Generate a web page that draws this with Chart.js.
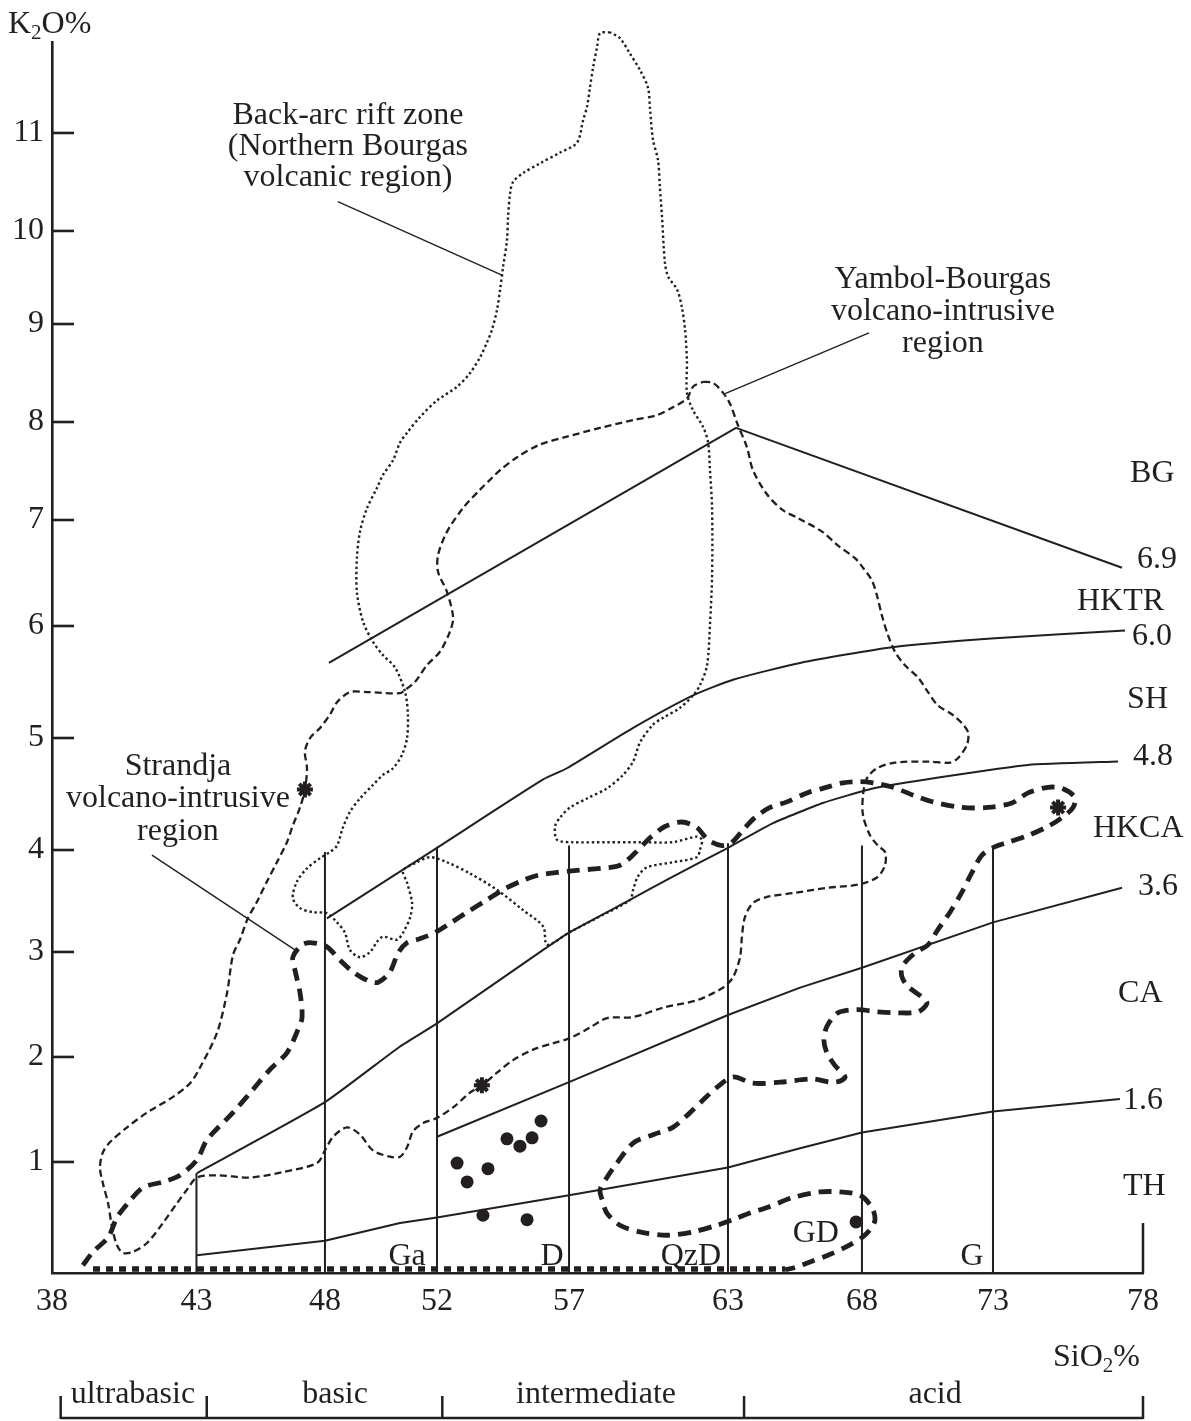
<!DOCTYPE html>
<html>
<head>
<meta charset="utf-8">
<script src="https://cdn.jsdelivr.net/npm/chart.js@4/dist/chart.umd.min.js"></script>
<style>
html,body{margin:0;padding:0;background:#fff;}
#wrap{width:1191px;height:1421px;position:relative;}
</style>
</head>
<body>
<div id="wrap"><canvas id="c"></canvas></div>
<script>
// ---------------- DATA (SiO2 %, K2O %) ----------------
const xTicks = [38, 43, 48, 52, 57, 63, 68, 73, 78];
const yTicks = [1, 2, 3, 4, 5, 6, 7, 8, 9, 10, 11];

const backArcZone = [[58.55,12.04],[58.17,12.03],[58.06,11.89],[57.91,11.68],[57.79,11.47],[57.68,11.27],[57.53,11.13],[57.30,10.90],[56.66,10.80],[55.90,10.69],[55.26,10.59],[54.88,10.50],[54.77,10.39],[54.69,10.14],[54.65,9.90],[54.50,9.61],[54.39,9.37],[54.27,9.15],[54.08,8.94],[53.89,8.81],[53.63,8.66],[53.25,8.50],[52.76,8.36],[52.00,8.22],[51.39,8.05],[50.93,7.89],[50.68,7.79],[50.43,7.61],[50.07,7.46],[49.86,7.33],[49.50,7.12],[49.25,6.89],[49.14,6.64],[49.14,6.32],[49.36,6.04],[49.71,5.86],[50.07,5.74],[50.50,5.63],[50.86,5.41],[50.96,5.21],[50.93,5.00],[50.75,4.85],[50.43,4.73],[50.07,4.67],[49.71,4.58],[49.25,4.46],[48.89,4.34],[48.64,4.20],[48.43,4.04],[48.18,3.98],[47.81,3.92],[47.30,3.82],[46.91,3.69],[46.75,3.53],[47.03,3.43],[47.53,3.39],[48.07,3.38],[48.43,3.29],[48.71,3.19],[48.89,3.02],[49.25,2.95],[49.61,3.00],[49.86,3.10],[50.07,3.15],[50.57,3.12],[50.79,3.19],[51.04,3.34],[51.11,3.48],[50.93,3.68],[50.79,3.80],[51.29,3.88],[51.75,3.93],[52.38,3.88],[53.25,3.77],[54.27,3.61],[55.26,3.41],[56.02,3.25],[56.17,3.07],[57.00,3.19],[58.17,3.35],[59.30,3.51],[59.42,3.61],[59.60,3.74],[59.94,3.83],[60.92,3.88],[61.83,3.93],[61.94,4.00],[62.02,4.09],[61.83,4.12],[60.92,4.07],[59.68,4.07],[58.43,4.07],[57.15,4.07],[56.55,4.09],[56.47,4.21],[56.66,4.29],[57.04,4.38],[57.68,4.46],[58.43,4.55],[59.04,4.67],[59.42,4.79],[59.68,4.96],[60.17,5.12],[60.55,5.18],[61.19,5.27],[61.68,5.38],[61.94,5.47],[62.21,5.65],[62.32,6.01],[62.40,6.48],[62.40,7.12],[62.32,7.51],[62.25,7.79],[62.06,7.95],[61.68,8.12],[61.45,8.30],[61.45,8.63],[61.38,8.94],[61.26,9.18],[61.08,9.37],[60.74,9.51],[60.62,9.66],[60.51,10.14],[60.43,10.45],[60.36,10.72],[60.17,10.93],[60.06,11.24],[59.98,11.47],[59.68,11.65],[59.30,11.82],[58.92,11.98],[58.55,12.04]];

const yambolBourgas = [[62.06,8.41],[62.43,8.40],[62.81,8.30],[63.07,8.19],[63.34,7.99],[63.71,7.74],[63.93,7.51],[64.46,7.26],[65.05,7.10],[65.61,7.02],[66.51,6.89],[67.10,6.76],[67.74,6.64],[68.04,6.55],[68.38,6.43],[68.57,6.29],[68.76,6.10],[68.99,5.92],[69.26,5.77],[69.64,5.65],[70.14,5.54],[70.52,5.41],[70.90,5.29],[71.44,5.21],[71.82,5.13],[72.05,5.05],[72.01,4.94],[71.66,4.82],[71.36,4.78],[70.52,4.79],[69.26,4.78],[68.57,4.73],[68.19,4.64],[68.04,4.49],[68.04,4.31],[68.31,4.13],[68.61,4.04],[68.88,3.98],[68.88,3.85],[68.57,3.73],[67.85,3.66],[66.73,3.63],[65.50,3.58],[64.46,3.54],[63.93,3.48],[63.63,3.34],[63.52,3.15],[63.45,2.95],[63.19,2.76],[62.81,2.66],[61.83,2.54],[60.55,2.47],[59.42,2.38],[58.43,2.37],[57.79,2.28],[57.04,2.18],[56.39,2.13],[55.64,2.07],[54.88,1.97],[54.27,1.85],[53.70,1.73],[53.25,1.66],[52.61,1.52],[52.00,1.42],[51.50,1.37],[51.14,1.29],[50.93,1.14],[50.68,1.05],[50.32,1.05],[49.71,1.11],[49.25,1.26],[48.79,1.33],[48.29,1.24],[48.00,1.11],[47.69,0.99],[46.37,0.91],[45.08,0.86],[43.80,0.88],[43.02,0.86],[42.67,0.75],[42.33,0.63],[41.84,0.45],[41.29,0.27],[40.80,0.19],[40.46,0.18],[40.25,0.25],[40.08,0.41],[39.94,0.63],[39.76,0.81],[39.66,0.95],[39.76,1.09],[40.01,1.19],[40.60,1.33],[41.29,1.47],[42.19,1.62],[42.78,1.75],[43.14,1.90],[43.80,2.23],[44.19,2.61],[44.42,2.97],[44.69,3.12],[45.00,3.33],[45.35,3.49],[45.74,3.69],[46.13,3.88],[46.52,4.07],[46.75,4.22],[47.03,4.38],[47.22,4.54],[47.30,4.73],[47.22,4.88],[47.42,5.00],[47.81,5.09],[48.18,5.21],[48.43,5.32],[48.89,5.41],[49.50,5.41],[50.68,5.40],[50.86,5.43],[51.21,5.50],[51.64,5.65],[52.11,5.77],[52.49,5.95],[52.61,6.08],[52.38,6.32],[52.04,6.51],[52.04,6.67],[52.38,6.89],[52.98,7.12],[53.63,7.31],[54.12,7.44],[54.39,7.51],[55.03,7.64],[55.90,7.77],[56.92,7.85],[58.17,7.94],[59.42,8.02],[60.32,8.07],[60.92,8.15],[61.45,8.24],[61.68,8.36],[62.06,8.41]];

const strandjaOutline = [[39.07,0.07],[39.42,0.19],[39.94,0.32],[40.25,0.50],[40.63,0.63],[41.15,0.77],[41.84,0.82],[42.43,0.88],[43.02,1.02],[43.41,1.21],[44.42,1.47],[45.20,1.69],[45.86,1.88],[46.52,2.04],[46.95,2.26],[47.11,2.38],[47.03,2.61],[46.83,2.83],[46.75,2.95],[47.11,3.07],[47.49,3.09],[48.07,3.05],[48.54,2.92],[49.00,2.81],[49.50,2.73],[49.89,2.71],[50.32,2.81],[50.61,2.99],[50.93,3.09],[51.39,3.13],[51.93,3.19],[52.49,3.28],[53.14,3.39],[53.89,3.51],[54.50,3.61],[55.14,3.69],[55.79,3.75],[56.55,3.78],[57.30,3.80],[58.17,3.82],[58.92,3.85],[59.49,3.97],[60.06,4.11],[60.62,4.21],[61.26,4.25],[61.83,4.20],[62.25,4.09],[62.77,4.04],[63.15,4.07],[63.56,4.18],[64.01,4.29],[64.57,4.38],[65.20,4.43],[65.95,4.51],[66.54,4.55],[67.29,4.60],[67.93,4.61],[68.42,4.60],[69.18,4.56],[69.95,4.49],[70.71,4.43],[71.82,4.38],[72.81,4.38],[73.63,4.42],[74.17,4.51],[74.83,4.56],[75.30,4.55],[75.73,4.47],[75.67,4.38],[75.30,4.29],[74.83,4.21],[74.17,4.13],[73.50,4.07],[73.07,4.03],[72.58,3.95],[72.20,3.78],[71.82,3.59],[71.36,3.39],[70.90,3.22],[70.52,3.07],[70.02,2.99],[69.53,2.86],[69.53,2.76],[69.76,2.67],[70.29,2.57],[70.48,2.51],[70.14,2.43],[69.37,2.42],[68.61,2.43],[67.81,2.45],[67.10,2.42],[66.69,2.29],[66.58,2.16],[66.69,2.04],[66.99,1.92],[67.37,1.81],[67.18,1.77],[66.81,1.76],[66.17,1.79],[64.94,1.76],[63.93,1.75],[63.19,1.81],[62.58,1.71],[62.06,1.59],[61.57,1.47],[60.92,1.33],[60.17,1.26],[59.42,1.18],[58.81,0.99],[58.43,0.86],[58.17,0.75],[58.25,0.66],[58.43,0.54],[58.92,0.43],[59.68,0.37],[60.70,0.34],[61.68,0.37],[62.58,0.43],[63.19,0.48],[63.82,0.54],[64.46,0.59],[65.43,0.68],[66.43,0.73],[67.18,0.73],[67.93,0.70],[68.38,0.59],[68.50,0.48],[68.31,0.39],[68.00,0.32],[67.37,0.23],[66.73,0.16],[66.06,0.10],[65.50,0.05],[65.13,0.03]];
const strandjaBase = [[39.42,0.035],[65.13,0.035]];

const boundary69 = [[48.14,5.67],[63.30,7.94],[77.30,6.55]];
const boundary60 = [[48.07,3.33],[52.00,4.02],[56.02,4.63],[56.92,4.73],[59.42,5.09],[61.68,5.38],[63.19,5.52],[65.69,5.67],[69.15,5.81],[73.07,5.89],[77.40,5.96]];
const boundary48 = [[43.02,0.90],[48.00,1.57],[50.68,2.10],[52.00,2.32],[56.02,3.02],[57.00,3.19],[59.30,3.51],[60.92,3.74],[63.00,4.02],[64.68,4.24],[66.54,4.42],[68.42,4.55],[70.98,4.65],[74.17,4.76],[77.17,4.79]];
const boundary36 = [[52.00,1.24],[57.00,1.76],[63.00,2.40],[65.69,2.66],[68.00,2.85],[73.00,3.29],[77.30,3.63]];
const boundary16 = [[43.02,0.16],[48.00,0.29],[50.68,0.45],[52.00,0.50],[57.00,0.70],[63.00,0.95],[65.69,1.13],[68.00,1.28],[73.00,1.48],[77.23,1.60]];

// rock-type divisions: [SiO2, top K2O]
const rockDividers = [[43,0.90],[48,3.98],[52,4.03],[57,4.04],[63,4.06],[68,4.04],[73,4.03]];
const axisEndTick = [[78,0],[78,0.45]];

const leaderBackArc = [[48.46,10.30],[54.50,9.52]];
const leaderYambol = [[68.27,8.91],[62.89,8.29]];
const leaderStrandja = [[41.46,3.95],[46.95,3.00]];

const sampleDots = [[52.76,0.99],[53.14,0.82],[53.93,0.94],[54.65,1.22],[55.14,1.15],[55.60,1.23],[55.94,1.39],[53.74,0.52],[55.41,0.48],[67.78,0.46]];
const sampleStars = [[47.22,4.54],[53.70,1.73],[75.17,4.38]];

const fieldNames = ['BG','HKTR','SH','HKCA','CA','TH'];
const boundaryNames = ['6.9','6.0','4.8','3.6','1.6'];
const rockNames = ['Ga','D','QzD','GD','G'];
const silicaClasses = ['ultrabasic','basic','intermediate','acid'];
const silicaClassBounds = [38.3, 43.4, 52.2, 63.6, 78];
const regionTexts = [
  ['Back-arc rift zone','(Northern Bourgas','volcanic region)'],
  ['Yambol-Bourgas','volcano-intrusive','region'],
  ['Strandja','volcano-intrusive','region']
];

// ---------------- LAYOUT (anchors in axis units) ----------------
const AXIS_CAL = {
  x: { stops: xTicks, fracs: [0,0.1324,0.2502,0.3529,0.4739,0.6196,0.7424,0.8625,1] },
  y: { stops: [0,1,2,3,4,5,6,7,8,9,10,11,11.94], fracs: [0,0.0902,0.1755,0.2608,0.3436,0.4346,0.5256,0.6117,0.6913,0.7709,0.8465,0.9261,1] }
};
const fieldPos = [[77.57,7.39],[75.8,6.15],[77.47,5.27],[76.33,4.12],[77.17,2.52],[77.33,0.70]];
const boundaryPos = [[77.8,6.55],[77.63,5.83],[77.67,4.76],[77.83,3.56],[77.33,1.50]];
const rockPos = [[50.93,0.07],[56.36,0.07],[61.6,0.07],[66.28,0.28],[72.2,0.07]];
const regionPos = [[48.82,[11.09,10.78,10.46]],[71.09,[9.39,9.04,8.71]],[42.36,[4.67,4.38,4.09]]];
const classLabelX = [40.8, 48.36, 58.02, 70.79];

const ink = '#231f20';
const FONT = '"Liberation Serif", "Times New Roman", serif';

// ---------------- custom piecewise axis ----------------
class PiecewiseScale extends Chart.LinearScale {
  _cal() { return AXIS_CAL[this.id]; }
  _toDec(v) {
    const {stops, fracs} = this._cal();
    let i = 1;
    while (i < stops.length - 1 && v > stops[i]) i++;
    return fracs[i-1] + (v - stops[i-1]) * (fracs[i] - fracs[i-1]) / (stops[i] - stops[i-1]);
  }
  getPixelForValue(v) {
    if (v === null || v === undefined || isNaN(v)) return NaN;
    return this.getPixelForDecimal(this._toDec(v));
  }
  getValueForPixel(p) {
    const d = this.getDecimalForPixel(p);
    const {stops, fracs} = this._cal();
    let i = 1;
    while (i < fracs.length - 1 && d > fracs[i]) i++;
    return stops[i-1] + (d - fracs[i-1]) * (stops[i] - stops[i-1]) / (fracs[i] - fracs[i-1]);
  }
  buildTicks() { return (this.id === 'x' ? xTicks : yTicks).map(v => ({ value: v })); }
}
PiecewiseScale.id = 'piecewise';
Chart.register(PiecewiseScale);

Chart.defaults.font.family = FONT;
Chart.defaults.font.size = 32;
Chart.defaults.color = ink;

const P = a => a.map(([x, y]) => ({ x, y }));
const lineSet = (data, o) => Object.assign({
  data: P(data), showLine: true, pointRadius: 0, pointHoverRadius: 0,
  borderColor: ink, borderWidth: 2, tension: 0, fill: false, clip: false,
  borderJoinStyle: 'round'
}, o || {});

const datasets = [];
datasets.push({ data: P(sampleStars), showLine: false, pointStyle: 'star', pointRadius: 8, borderColor: ink, borderWidth: 4, backgroundColor: ink, clip: false });
datasets.push({ data: P(sampleStars), showLine: false, pointStyle: 'circle', pointRadius: 4.5, borderWidth: 0, backgroundColor: ink, clip: false });
datasets.push({ data: P(sampleDots), showLine: false, pointStyle: 'circle', pointRadius: 6.5, borderWidth: 0, backgroundColor: ink, clip: false });
datasets.push(lineSet(boundary69));
datasets.push(lineSet(boundary60, { tension: 0.2 }));
datasets.push(lineSet(boundary48, { tension: 0.15 }));
datasets.push(lineSet(boundary36));
datasets.push(lineSet(boundary16));
rockDividers.forEach(([sx, top]) => datasets.push(lineSet([[sx, 0], [sx, top]])));
datasets.push(lineSet(axisEndTick, { borderWidth: 2.5 }));
[leaderBackArc, leaderYambol, leaderStrandja].forEach(l => datasets.push(lineSet(l, { borderWidth: 1.4 })));
datasets.push(lineSet(yambolBourgas, { borderWidth: 2.3, borderDash: [7, 4], tension: 0.3 }));
datasets.push(lineSet(backArcZone, { borderWidth: 2.4, borderDash: [2.4, 2.8], tension: 0.3 }));
datasets.push(lineSet(strandjaOutline, { borderWidth: 4.8, borderDash: [13, 8], tension: 0.3 }));
datasets.push(lineSet(strandjaBase, { borderWidth: 5.5, borderDash: [7, 6] }));

function drawParts(ctx, parts, x, y) {
  let cx = x;
  ctx.textAlign = 'left';
  parts.forEach(([t, sub]) => {
    ctx.font = (sub ? '21px ' : '32px ') + FONT;
    ctx.fillText(t, cx, sub ? y + 6 : y);
    cx += ctx.measureText(t).width;
  });
}

const decor = {
  id: 'decor',
  beforeDraw(chart) {
    const c = chart.ctx; c.save(); c.fillStyle = '#fff'; c.fillRect(0, 0, chart.width, chart.height); c.restore();
  },
  afterDraw(chart) {
    const { ctx, chartArea: a, scales: { x, y } } = chart;
    ctx.save();
    ctx.strokeStyle = ink; ctx.fillStyle = ink;
    // inner tick marks on K2O axis
    ctx.lineWidth = 2.6;
    yTicks.forEach(v => {
      const py = y.getPixelForValue(v);
      ctx.beginPath(); ctx.moveTo(a.left, py); ctx.lineTo(a.left + 22, py); ctx.stroke();
    });
    ctx.font = '32px ' + FONT;
    ctx.textBaseline = 'alphabetic';
    const put = (t, vx, vy, align) => { ctx.textAlign = align; ctx.fillText(t, x.getPixelForValue(vx), y.getPixelForValue(vy)); };
    fieldNames.forEach((t, i) => put(t, fieldPos[i][0], fieldPos[i][1], 'left'));
    boundaryNames.forEach((t, i) => put(t, boundaryPos[i][0], boundaryPos[i][1], 'left'));
    rockNames.forEach((t, i) => put(t, rockPos[i][0], rockPos[i][1], 'center'));
    regionTexts.forEach((lines, i) => lines.forEach((t, j) => put(t, regionPos[i][0], regionPos[i][1][j], 'center')));
    // axis titles
    drawParts(ctx, [['K', false], ['2', true], ['O%', false]], a.left - 44, a.top - 9);
    drawParts(ctx, [['SiO', false], ['2', true], ['%', false]], x.getPixelForValue(75), a.bottom + 93);
    // silica class bracket
    ctx.font = '32px ' + FONT;
    ctx.lineWidth = 2.5;
    const by = a.bottom + 145;
    ctx.beginPath();
    ctx.moveTo(x.getPixelForValue(silicaClassBounds[0]), by);
    ctx.lineTo(x.getPixelForValue(silicaClassBounds[silicaClassBounds.length - 1]), by);
    ctx.stroke();
    silicaClassBounds.forEach(v => {
      const px = x.getPixelForValue(v);
      ctx.beginPath(); ctx.moveTo(px, by + 1); ctx.lineTo(px, a.bottom + 123); ctx.stroke();
    });
    ctx.textAlign = 'center';
    silicaClasses.forEach((t, i) => ctx.fillText(t, x.getPixelForValue(classLabelX[i]), a.bottom + 130));
    ctx.restore();
  }
};

new Chart(document.getElementById('c'), {
  type: 'scatter',
  data: { datasets },
  options: {
    responsive: true,
    maintainAspectRatio: false,
    animation: false,
    events: [],
    layout: { padding: { left: 0, right: 48, top: 42, bottom: 0 } },
    plugins: { legend: { display: false }, tooltip: { enabled: false } },
    scales: {
      x: {
        type: 'piecewise', position: 'bottom', min: 38, max: 78,
        grid: { display: false, drawTicks: false },
        border: { display: true, color: ink, width: 2.5 },
        ticks: { autoSkip: false, maxRotation: 0, padding: 9, color: ink, font: { size: 32, family: FONT }, callback: v => String(v) },
        afterFit: s => { s.height = 148; }
      },
      y: {
        type: 'piecewise', position: 'left', min: 0, max: 11.94,
        grid: { display: false, drawTicks: false },
        border: { display: true, color: ink, width: 2.6 },
        ticks: { autoSkip: false, padding: 8, color: ink, font: { size: 32, family: FONT }, callback: v => String(v) },
        afterFit: s => { s.width = 52; }
      }
    }
  },
  plugins: [decor]
});
</script>
</body>
</html>
